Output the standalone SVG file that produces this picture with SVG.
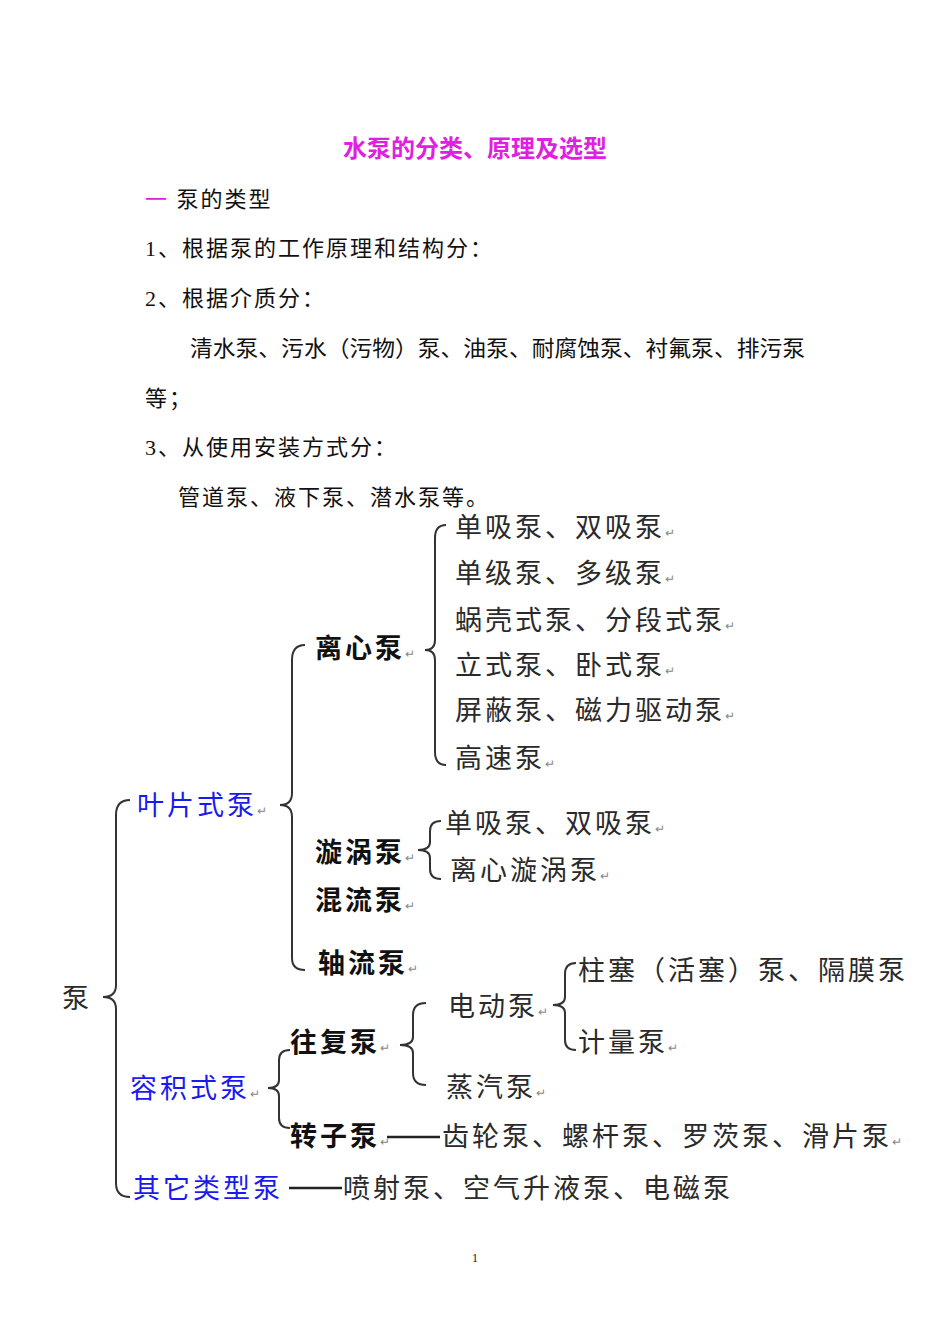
<svg xmlns="http://www.w3.org/2000/svg" width="950" height="1344" viewBox="0 0 950 1344">
<style>
text{font-family:"Liberation Serif","Noto Sans CJK SC",serif;}
.p{font-size:22px;letter-spacing:2px;fill:#111;}
.t{font-size:24px;font-weight:bold;fill:#e020e0;}
.n{font-size:27px;letter-spacing:3px;fill:#2a2a2a;}
.b{font-size:27px;letter-spacing:3px;fill:#111;font-weight:bold;}
.u{font-size:27px;letter-spacing:3px;fill:#1a1aee;}
.m{font-size:12px;fill:#888;letter-spacing:0;font-weight:normal;}
.br{fill:none;stroke:#333;stroke-width:2;}
</style>
<rect width="950" height="1344" fill="#fff"/>
<g id="header">
<text class="t" x="475" y="157" text-anchor="middle">水泵的分类、原理及选型</text>
<text class="p" x="145" y="207"><tspan fill="#e020e0">一</tspan> 泵的类型</text>
<text class="p" x="145" y="256">1、根据泵的工作原理和结构分：</text>
<text class="p" x="145" y="306">2、根据介质分：</text>
<text class="p" x="190" y="356" style="letter-spacing:0" textLength="615" lengthAdjust="spacingAndGlyphs">清水泵、污水（污物）泵、油泵、耐腐蚀泵、衬氟泵、排污泵</text>
<text class="p" x="145" y="406">等；</text>
<text class="p" x="145" y="455">3、从使用安装方式分：</text>
<text class="p" x="178" y="505">管道泵、液下泵、潜水泵等。</text>
</g>
<g id="connectors">
<path class="br" d="M130 800 Q116 800 116 815 L116 985 Q116 997 103 997 Q116 997 116 1009 L116 1183 Q116 1197 130 1197"/>
<path class="br" d="M305 645 Q292 645 292 660 L292 793 Q292 805 280 805 Q292 805 292 817 L292 958 Q292 970 305 970"/>
<path class="br" d="M446 525 Q435 525 435 538 L435 640 Q435 650 425 650 Q435 650 435 660 L435 752 Q435 765 446 765"/>
<path class="br" d="M441 821 Q430 821 430 831 L430 842 Q430 850 418 850 Q430 850 430 858 L430 869 Q430 879 441 879"/>
<path class="br" d="M290 1050 Q279 1050 279 1060 L279 1080 Q279 1088 268 1088 Q279 1088 279 1096 L279 1118 Q279 1128 290 1128"/>
<path class="br" d="M426 1003 Q413 1003 413 1015 L413 1037 Q413 1045 400 1045 Q413 1045 413 1053 L413 1073 Q413 1085 426 1085"/>
<path class="br" d="M576 963 Q565 963 565 974 L565 997 Q565 1005 553 1005 Q565 1005 565 1013 L565 1040 Q565 1050 576 1050"/>
<line x1="387" y1="1137" x2="440" y2="1137" stroke="#222" stroke-width="2.5"/>
<line x1="289" y1="1188" x2="342" y2="1188" stroke="#222" stroke-width="2.5"/>
</g>
<g id="n-beng"><text class="n" x="62" y="1008" fill="#111">泵</text></g>
<g id="n-yepian"><text class="u" x="137" y="815">叶片式泵<tspan class="m">↵</tspan></text></g>
<g id="n-lixin"><text class="b" x="315" y="658">离心泵<tspan class="m">↵</tspan></text></g>
<g id="n-lixin-sub">
<text class="n" x="455" y="537">单吸泵、双吸泵<tspan class="m">↵</tspan></text>
<text class="n" x="455" y="583">单级泵、多级泵<tspan class="m">↵</tspan></text>
<text class="n" x="455" y="630">蜗壳式泵、分段式泵<tspan class="m">↵</tspan></text>
<text class="n" x="455" y="675">立式泵、卧式泵<tspan class="m">↵</tspan></text>
<text class="n" x="455" y="720">屏蔽泵、磁力驱动泵<tspan class="m">↵</tspan></text>
<text class="n" x="455" y="768">高速泵<tspan class="m">↵</tspan></text>
</g>
<g id="n-xuanwo"><text class="b" x="315" y="862">漩涡泵<tspan class="m">↵</tspan></text></g>
<g id="n-xuanwo-sub">
<text class="n" x="445" y="833">单吸泵、双吸泵<tspan class="m">↵</tspan></text>
<text class="n" x="450" y="880">离心漩涡泵<tspan class="m">↵</tspan></text>
</g>
<g id="n-hunliu"><text class="b" x="315" y="910">混流泵<tspan class="m">↵</tspan></text></g>
<g id="n-zhouliu"><text class="b" x="318" y="973">轴流泵<tspan class="m">↵</tspan></text></g>
<g id="n-rongji"><text class="u" x="130" y="1098">容积式泵<tspan class="m">↵</tspan></text></g>
<g id="n-wangfu"><text class="b" x="290" y="1052">往复泵<tspan class="m">↵</tspan></text></g>
<g id="n-diandong"><text class="n" x="448" y="1016">电动泵<tspan class="m">↵</tspan></text></g>
<g id="n-zhusai"><text class="n" x="578" y="980">柱塞（活塞）泵、隔膜泵</text></g>
<g id="n-jiliang"><text class="n" x="578" y="1052">计量泵<tspan class="m">↵</tspan></text></g>
<g id="n-zhengqi"><text class="n" x="446" y="1097">蒸汽泵<tspan class="m">↵</tspan></text></g>
<g id="n-zhuanzi"><text class="b" x="290" y="1146">转子泵<tspan class="m">↵</tspan></text></g>
<g id="n-chilun"><text class="n" x="442" y="1146">齿轮泵、螺杆泵、罗茨泵、滑片泵<tspan class="m">↵</tspan></text></g>
<g id="n-qita"><text class="u" x="133" y="1198">其它类型泵</text></g>
<g id="n-penshe"><text class="n" x="343" y="1198">喷射泵、空气升液泵、电磁泵</text></g>
<text x="475" y="1262" font-size="12" text-anchor="middle" fill="#111">1</text>
</svg>
